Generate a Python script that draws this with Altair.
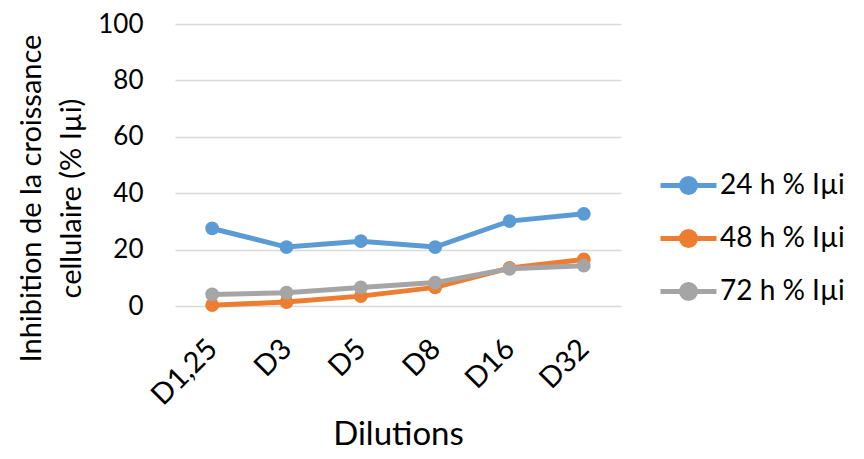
import altair as alt
import pandas as pd

dilutions = ["D1,25", "D3", "D5", "D8", "D16", "D32"]
series_names = ["24 h % Iµi", "48 h % Iµi", "72 h % Iµi"]
v24 = [27.5, 20.9, 23.0, 20.9, 30.1, 32.7]
v48 = [0.3, 1.4, 3.5, 6.6, 13.5, 16.5]
v72 = [4.1, 4.7, 6.6, 8.3, 13.2, 14.3]
colors = ["#5B9BD5", "#ED7D31", "#A5A5A5"]

rows = []
for name, vals in zip(series_names, [v24, v48, v72]):
    for d, v in zip(dilutions, vals):
        rows.append({"Dilution": d, "Série": name, "Valeur": v})
df = pd.DataFrame(rows)

FONT = "Lato"
legend_path = "M-1,0L1,0M0.25,0A0.25,0.25,0,1,1,-0.25,0A0.25,0.25,0,1,1,0.25,0Z"

x = alt.X("Dilution:N", sort=dilutions, title="Dilutions",
          scale=alt.Scale(paddingInner=0, paddingOuter=0.5),
          axis=alt.Axis(labelAngle=-45, labelAlign="right", labelBaseline="middle",
                        labelPadding=38, ticks=False, domain=False, grid=False,
                        labelFontSize=29, titleFontSize=33, titleFontWeight="normal",
                        titleY=138, titleBaseline="alphabetic",
                        labelColor="black", titleColor="black"))
y = alt.Y("Valeur:Q", title=["Inhibition de la croissance", "cellulaire (% Iµi)"],
          scale=alt.Scale(domain=[0, 100]),
          axis=alt.Axis(values=[0, 20, 40, 60, 80, 100], ticks=False, domain=False,
                        gridColor="#D9D9D9", gridWidth=1.5, labelPadding=32,
                        labelFontSize=26, titleFontSize=29, titleFontWeight="normal",
                        titleAngle=-90, titleX=-144, titleY=174, titleAlign="center",
                        titleBaseline="middle", titleLineHeight=40,
                        labelColor="black", titleColor="black"))
color = alt.Color("Série:N", sort=series_names,
                  scale=alt.Scale(domain=series_names, range=colors),
                  legend=alt.Legend(title=None, orient="none", legendX=483, legendY=131,
                                    symbolType=legend_path, symbolSize=3136,
                                    symbolStrokeWidth=5, labelFontSize=28,
                                    labelColor="black", rowPadding=5, labelOffset=1))

base = alt.Chart(df).encode(x=x, y=y, color=color)
lines = base.mark_line(strokeWidth=5)
points = base.mark_point(filled=True, size=190, opacity=1)

chart = alt.layer(lines, points).properties(
    width=446, height=282,
    autosize=alt.AutoSizeParams(type="none"),
    padding={"left": 167, "top": 16, "right": 235, "bottom": 145},
).configure(font=FONT).configure_view(stroke=None)

chart.save("out.html", embed_options={"renderer": "svg", "actions": False})
